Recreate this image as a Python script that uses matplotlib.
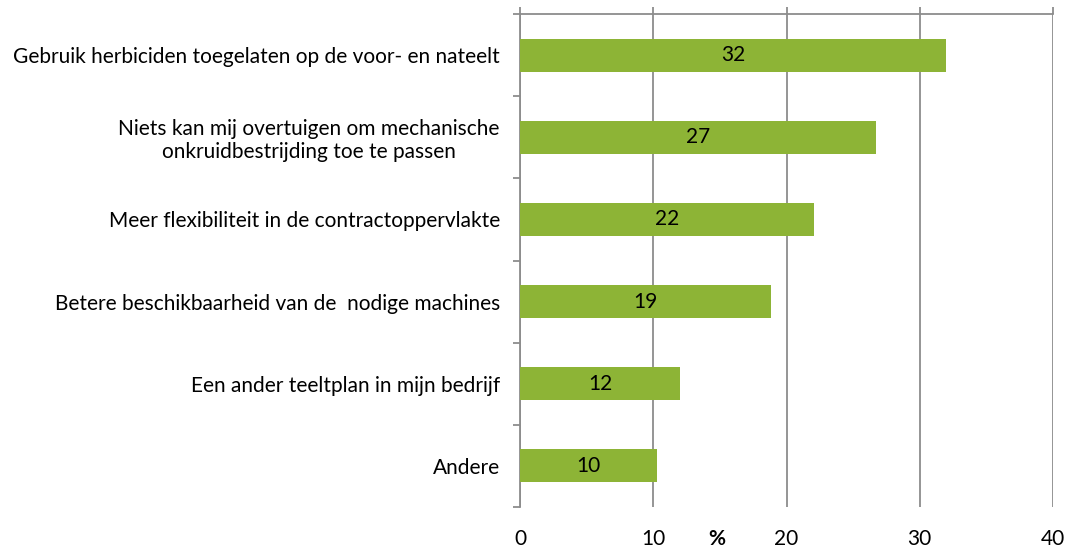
import matplotlib.pyplot as plt
import numpy as np

categories = [
    "Gebruik herbiciden toegelaten op de voor- en nateelt",
    "Niets kan mij overtuigen om mechanische\nonkruidbestrijding toe te passen",
    "Meer flexibiliteit in de contractoppervlakte",
    "Betere beschikbaarheid van de  nodige machines",
    "Een ander teeltplan in mijn bedrijf",
    "Andere",
]
values = [32.0, 26.7, 22.1, 18.8, 12.0, 10.3]
value_labels = ["32", "27", "22", "19", "12", "10"]
x_ticks = [0, 10, 20, 30, 40]

plt.rcParams['font.family'] = ['Lato', 'DejaVu Sans']

grid_col = '#8c8c8c'
bar_col = '#8db436'
fs = 15

fig = plt.figure(figsize=(10.69, 5.52), dpi=100)
ax = fig.add_axes([520 / 1069, 1 - 507 / 552, 533 / 1069, 493 / 552])

n = len(categories)
y = np.arange(n)[::-1]
ax.barh(y, values, height=0.4, color=bar_col, zorder=3)
for yi, v, lab in zip(y, values, value_labels):
    ax.text(v / 2, yi, lab, ha='center', va='center', fontsize=fs, color='black', zorder=4)

ax.set_xlim(0, 40)
ax.set_ylim(-0.5, n - 0.5)
ax.set_xticks(x_ticks)
ax.xaxis.grid(True, color=grid_col, linewidth=1.3, zorder=0)
ax.tick_params(axis='x', bottom=False, top=True, length=5, width=1.3, color=grid_col,
               labelsize=fs, pad=11)

ax.set_yticks(y)
ax.set_yticklabels(categories, fontsize=fs, multialignment='center')
ax.set_yticks(np.arange(n + 1) - 0.5, minor=True)
ax.tick_params(axis='y', which='major', length=0, pad=14.5)
ax.tick_params(axis='y', which='minor', length=5, width=1.3, color=grid_col)

for s in ['right', 'bottom']:
    ax.spines[s].set_visible(False)
for s in ['left', 'top']:
    ax.spines[s].set_color(grid_col)
    ax.spines[s].set_linewidth(1.3)

ax.annotate('%', xy=(14.8, -0.5), xytext=(0, -16), textcoords='offset points',
            ha='center', va='top', fontsize=fs, fontweight='bold')

plt.savefig('out.png', dpi=100)
